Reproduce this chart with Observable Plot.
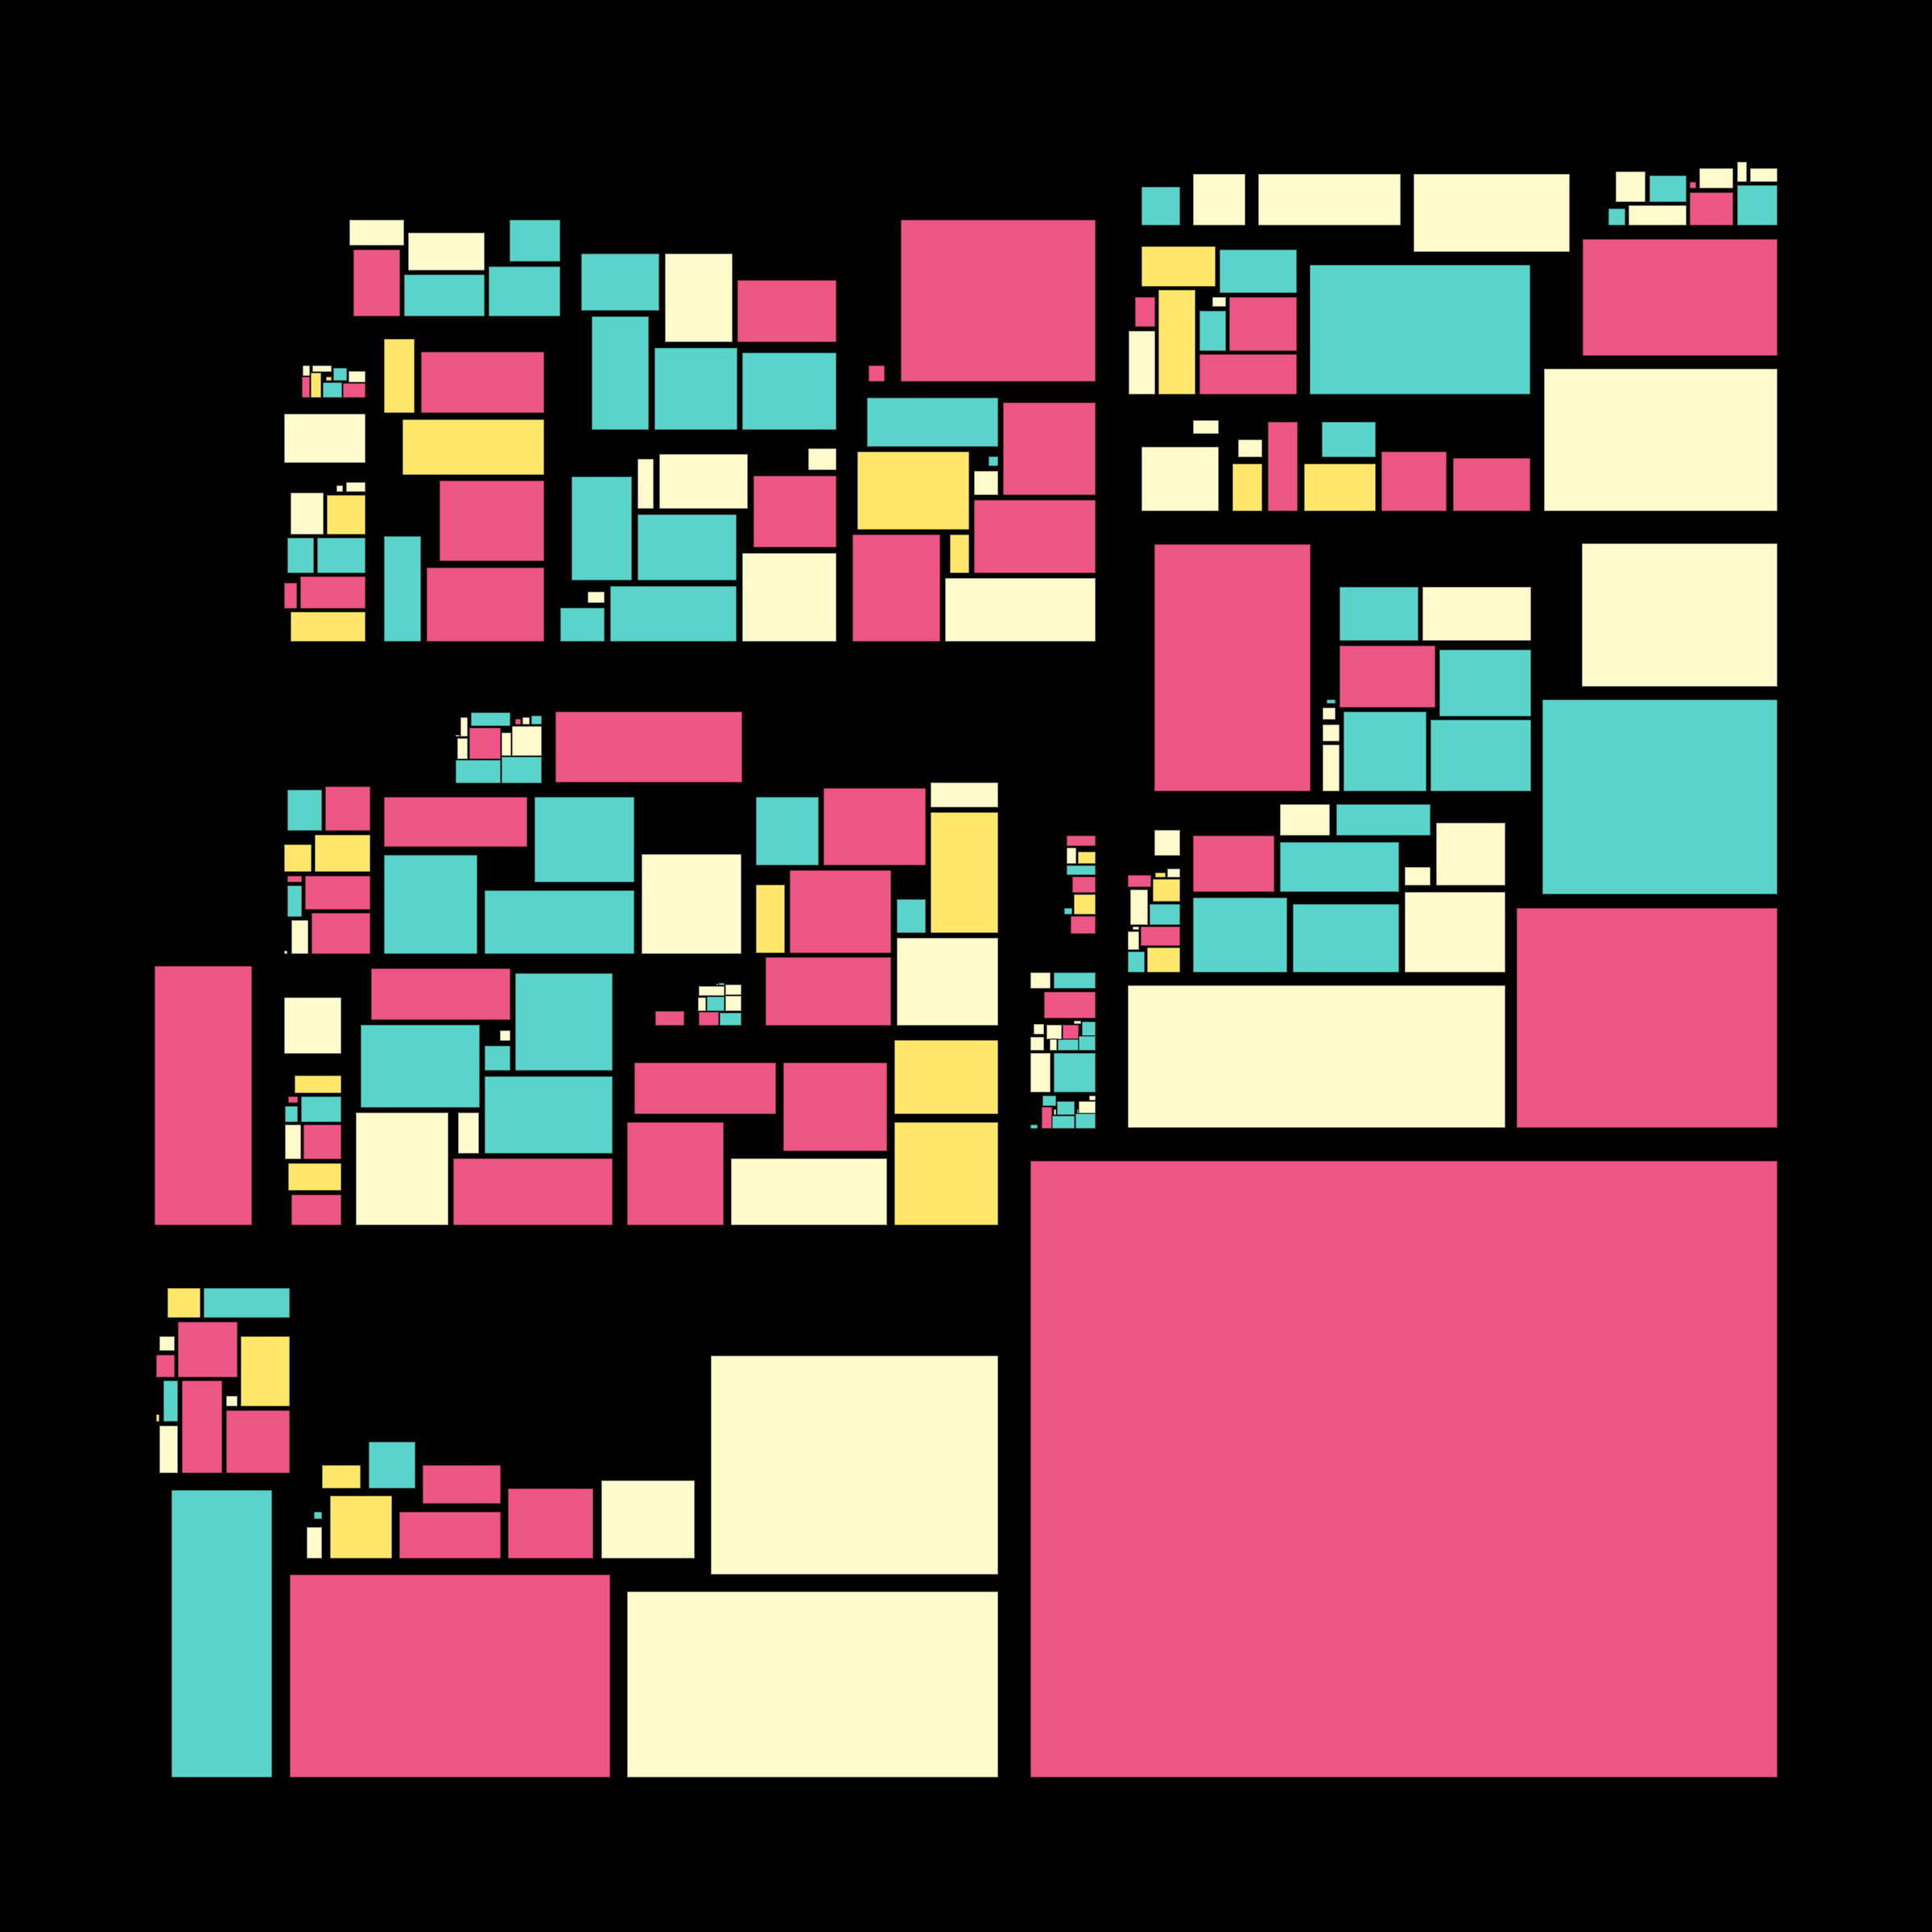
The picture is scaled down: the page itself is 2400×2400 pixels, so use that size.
<!DOCTYPE html>
<html>
<head>
<meta charset="utf-8">
<script src="https://cdn.jsdelivr.net/npm/d3@7"></script>
<script src="https://cdn.jsdelivr.net/npm/@observablehq/plot@0.6"></script>
<style>
  html, body { margin: 0; padding: 0; background: #000; }
</style>
</head>
<body>
<div id="chart"></div>
<script>
// Rectangles of the mosaic, grouped by colour: [x0, y0, x1, y1] in artwork units
const pinkRects = [
  [439,310,497,393],[523,437,676,513],[375,468,385,494],[426,476,454,494],
  [353,724,369,756],[373,716,454,756],[546,597,676,697],[530,705,676,797],
  [916,348,1039,425],[936,591,1039,680],[1119,273,1361,474],[1079,454,1099,474],
  [1246,500,1361,615],[1210,621,1361,712],[1059,664,1168,797],[1410,369,1435,406],
  [1527,369,1611,436],[1490,440,1611,490],[1575,524,1612,635],[1716,561,1797,635],
  [1805,569,1901,635],[2099,226,2107,234],[2099,239,2153,280],[1966,297,2208,442],
  [1434,676,1628,983],[1664,802,1783,879],[1482,1038,1583,1108],[1884,1128,2208,1401],
  [1401,1087,1430,1102],[1417,1151,1466,1175],[1325,1038,1361,1051],[1332,1089,1361,1109],
  [1330,1138,1361,1160],[1297,1232,1361,1265],[1320,1273,1340,1291],[1294,1375,1307,1402],
  [640,893,647,900],[583,904,622,943],[690,884,922,972],[404,977,460,1032],
  [357,1088,375,1096],[379,1088,460,1130],[387,1134,460,1185],[477,990,655,1052],
  [192,1200,313,1522],[358,1362,370,1370],[377,1397,424,1440],[362,1484,424,1522],
  [461,1203,634,1267],[563,1439,761,1522],[1023,979,1150,1075],[981,1081,1107,1184],
  [951,1189,1107,1274],[814,1256,850,1274],[868,1257,893,1274],[788,1320,964,1384],
  [973,1320,1102,1430],[779,1394,899,1522],[221,1642,295,1711],[194,1683,217,1711],
  [226,1715,276,1830],[281,1752,360,1830],[525,1820,622,1868],[496,1878,622,1936],
  [631,1849,737,1936],[360,1956,758,2208],[1280,1442,2208,2208]
];
const tealRects = [
  [633,273,696,325],[502,341,602,393],[607,331,696,393],[414,457,431,473],
  [401,475,425,494],[357,668,390,712],[394,668,454,712],[477,666,523,797],
  [722,315,819,386],[735,393,806,534],[813,432,916,534],[710,592,785,721],
  [792,639,915,721],[696,755,751,797],[758,728,915,797],[922,438,1039,534],
  [1077,494,1240,555],[1228,567,1240,579],[1418,232,1466,280],[1515,310,1611,364],
  [1490,386,1523,436],[1627,329,1901,490],[1642,524,1709,568],[2049,218,2095,251],
  [1998,259,2019,280],[2158,230,2208,280],[1664,729,1762,796],[1788,807,1902,890],
  [1648,869,1659,874],[1669,884,1772,983],[1777,894,1902,983],[1660,999,1777,1038],
  [1590,1046,1738,1108],[1482,1115,1599,1208],[1606,1123,1738,1208],[1916,869,2208,1111],
  [1428,1123,1466,1149],[1401,1182,1422,1208],[1325,1075,1361,1087],[1322,1128,1332,1136],
  [1309,1208,1361,1228],[1344,1269,1361,1287],[1314,1291,1340,1305],[1340,1287,1361,1305],
  [1309,1308,1361,1357],[1295,1361,1312,1374],[1313,1368,1335,1385],[1307,1386,1335,1402],
  [1336,1383,1361,1402],[1280,1397,1289,1402],[585,885,634,902],[660,889,673,900],
  [566,944,622,973],[623,940,673,973],[357,981,400,1032],[357,1100,375,1139],
  [477,1062,593,1185],[664,990,788,1096],[602,1106,788,1185],[354,1374,370,1394],
  [374,1362,424,1394],[448,1273,596,1376],[640,1209,761,1330],[602,1299,634,1330],
  [602,1337,761,1433],[939,990,1017,1075],[1114,1117,1150,1159],[893,1221,900,1224],
  [878,1238,900,1256],[894,1258,921,1274],[253,1600,360,1637],[203,1715,221,1766],
  [213,1851,338,2208],[458,1791,516,1849],[390,1878,400,1887]
];
const creamRects = [
  [434,273,502,305],[507,289,602,336],[376,454,385,467],[388,454,412,462],
  [433,461,454,475],[353,514,454,575],[418,603,426,611],[430,599,454,611],
  [361,612,402,664],[826,315,910,425],[792,570,812,632],[819,564,929,632],
  [730,735,751,749],[1004,557,1039,584],[1210,585,1240,615],[922,687,1039,797],
  [1174,718,1361,797],[1482,216,1547,280],[1563,216,1740,280],[1756,216,1950,313],
  [1402,411,1435,490],[1506,369,1523,381],[1482,522,1514,539],[1418,555,1514,635],
  [1538,546,1568,568],[2007,213,2044,251],[2111,209,2153,234],[2158,201,2170,226],
  [2174,209,2208,226],[2023,255,2095,280],[1918,458,2208,635],[1767,729,1902,796],
  [1643,879,1659,894],[1643,900,1664,921],[1643,925,1664,983],[1590,999,1652,1038],
  [1784,1022,1870,1100],[1745,1077,1777,1100],[1745,1108,1870,1208],[1401,1224,1870,1401],
  [1965,675,2208,853],[1434,1031,1466,1063],[1450,1079,1466,1090],[1404,1105,1426,1149],
  [1407,1151,1415,1155],[1401,1157,1415,1180],[1325,1053,1337,1073],[1280,1208,1305,1228],
  [1334,1268,1343,1272],[1284,1272,1297,1285],[1300,1273,1319,1291],[1280,1288,1297,1305],
  [1304,1291,1313,1305],[1280,1308,1305,1357],[1353,1361,1361,1367],[1309,1378,1312,1385],
  [1338,1378,1340,1383],[1340,1368,1361,1383],[649,891,658,900],[572,891,581,915],
  [566,913,571,915],[568,917,581,943],[623,910,635,939],[636,902,673,939],
  [353,1181,357,1185],[362,1143,383,1185],[797,1061,921,1185],[1156,972,1240,1003],
  [1114,1165,1240,1274],[353,1239,424,1309],[354,1397,374,1440],[442,1382,557,1522],
  [569,1382,595,1433],[621,1280,634,1293],[890,1222,892,1224],[868,1225,900,1237],
  [901,1223,921,1236],[867,1239,877,1256],[901,1237,921,1256],[908,1439,1102,1522],
  [198,1660,217,1678],[281,1734,295,1747],[198,1771,221,1830],[381,1897,400,1936],
  [747,1839,863,1936],[883,1684,1240,1956],[779,1977,1240,2208]
];
const yellowRects = [
  [386,463,399,494],[405,468,412,473],[477,421,515,513],[500,521,676,590],
  [406,615,454,664],[361,760,454,797],[1065,561,1204,658],[1180,664,1204,712],
  [1418,306,1510,356],[1439,360,1485,490],[1531,576,1568,635],[1620,576,1709,635],
  [1435,1084,1448,1090],[1432,1092,1466,1120],[1425,1177,1466,1208],[1339,1058,1361,1073],
  [1334,1111,1361,1136],[353,1049,387,1083],[391,1037,460,1083],[366,1336,424,1358],
  [358,1445,424,1479],[1156,1009,1240,1159],[939,1099,975,1184],[1111,1292,1240,1384],
  [1111,1394,1240,1522],[208,1600,249,1637],[299,1660,360,1747],[194,1757,198,1766],
  [400,1820,448,1849],[410,1858,487,1936]
];
const colorNames = ["pink", "teal", "cream", "yellow"];
const colorValues = ["#EE5587", "#5AD3CA", "#FFFACC", "#FFE76C"];

const groups = [pinkRects, tealRects, creamRects, yellowRects];
const cells = groups.flatMap((list, i) =>
  list.map(([x0, y0, x1, y1]) => ({x0, y0, x1, y1, kind: colorNames[i]}))
);

const chart = Plot.plot({
  width: 2400,
  height: 2400,
  margin: 0,
  style: {background: "#000"},
  x: {domain: [0, 2400], range: [0, 2400], axis: null},
  y: {domain: [0, 2400], range: [0, 2400], axis: null},
  color: {type: "ordinal", domain: colorNames, range: colorValues},
  marks: [
    Plot.rect(cells, {
      x1: "x0", x2: "x1", y1: "y0", y2: "y1",
      fill: "kind",
      stroke: "#000",
      strokeOpacity: 0.55,
      strokeWidth: 1.5
    })
  ]
});
document.getElementById("chart").appendChild(chart);
</script>
</body>
</html>
